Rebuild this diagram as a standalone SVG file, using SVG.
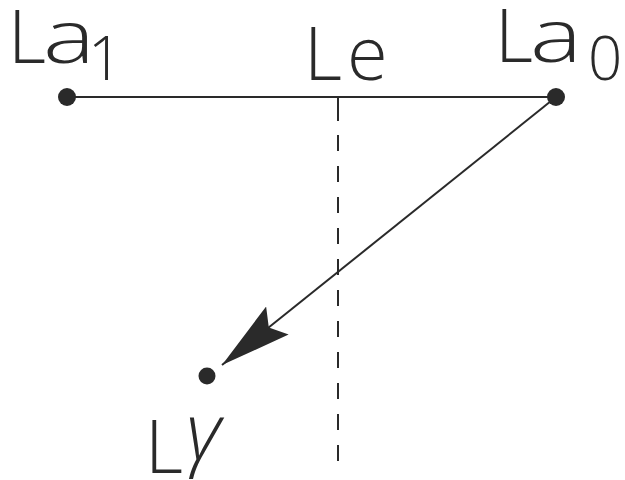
<svg xmlns="http://www.w3.org/2000/svg" width="625" height="480" viewBox="0 0 625 480">
<style>
.lbl{font-family:"Open Sans","Liberation Sans",Arial,sans-serif;font-weight:300;fill:#2a2a2a;font-size:74px}
.sub{font-size:60px}
.dot{fill:#2a2a2a}
.ln{stroke:#2a2a2a;stroke-width:2;fill:none}
</style>
<defs>
<marker id="ah" markerUnits="userSpaceOnUse" viewBox="0 -18 71 36" refX="71" refY="0" markerWidth="71" markerHeight="36" orient="auto">
<path d="M0,-18 L71,0 L0,18 L11,0 Z" fill="#2a2a2a"/>
</marker>
</defs>
<rect width="625" height="480" fill="#fff"/>
<g id="connectors">
<line class="ln" x1="67" y1="97" x2="556" y2="97"/>
<line class="ln" x1="338" y1="97" x2="338" y2="472" stroke-dasharray="24 14 16 15 16 15 16 15 16 15 16 15 16 15 16 15 16 15 16 15 16 15 16 15 16 15 16 15 16 15"/>
<line class="ln" x1="556" y1="97" x2="222" y2="365" marker-end="url(#ah)"/>
</g>
<g id="La1">
<circle class="dot" cx="67" cy="97" r="9"/>
<text class="lbl" x="8" y="63">L<tspan x="43" textLength="52" lengthAdjust="spacingAndGlyphs">a</tspan><tspan class="sub" x="88" y="80">1</tspan></text>
</g>
<g id="Le">
<text class="lbl" x="304" y="80">L<tspan x="347">e</tspan></text>
</g>
<g id="La0">
<circle class="dot" cx="556" cy="97" r="9"/>
<text class="lbl" x="495" y="62">L<tspan x="530" textLength="52" lengthAdjust="spacingAndGlyphs">a</tspan><tspan class="sub" x="588" y="80">0</tspan></text>
</g>
<g id="Lgamma">
<circle class="dot" cx="207" cy="376" r="8.5"/>
<text class="lbl" x="145" y="473">L<tspan x="186" y="460" font-style="italic" font-size="80px">γ</tspan></text>
</g>
</svg>
